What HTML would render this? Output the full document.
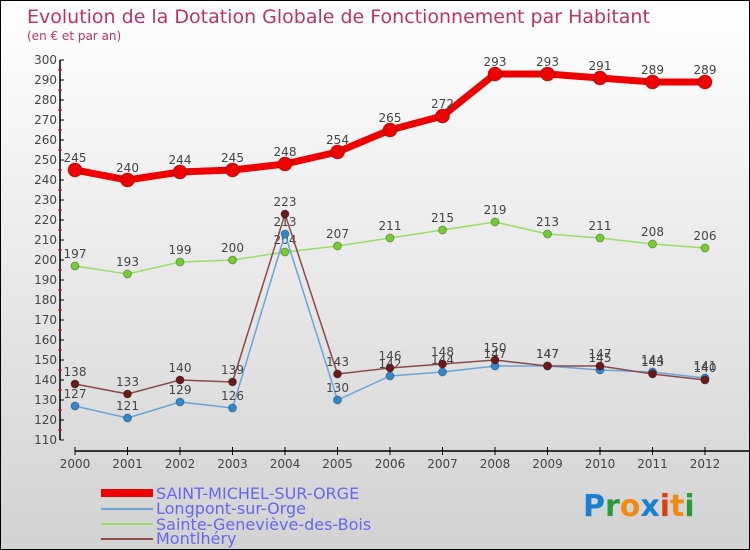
<!DOCTYPE html>
<html><head><meta charset="utf-8"><style>
body{margin:0;}
#wrap{width:748px;height:548px;border:1px solid #000;background:linear-gradient(#fff,#d2d2d2);position:relative;overflow:hidden;font-family:"DejaVu Sans","Liberation Sans",sans-serif;}
text{font-family:"DejaVu Sans","Liberation Sans",sans-serif;}
</style></head><body>
<div id="wrap">
<svg id="chart" width="748" height="548">
<text x="26" y="22" font-size="19" fill="#c0335a">Evolution de la Dotation Globale de Fonctionnement par Habitant</text>
<text x="26" y="39" font-size="12" fill="#c0335a">(en € et par an)</text>
<g id="axes"></g><g id="series"></g>
<g>
<rect x="100" y="488" width="52" height="8" fill="#e00"/>
<text x="155" y="498" font-size="16" fill="#6666ee">SAINT-MICHEL-SUR-ORGE</text>
<rect x="100" y="507" width="52" height="2" fill="#6aa5d8"/>
<text x="155" y="513" font-size="16" fill="#6666ee">Longpont-sur-Orge</text>
<rect x="100" y="522" width="52" height="2" fill="#99dd66"/>
<text x="155" y="529" font-size="16" fill="#6666ee">Sainte-Geneviève-des-Bois</text>
<rect x="100" y="537" width="52" height="2" fill="#8a4a4a"/>
<text x="155" y="543" font-size="16" fill="#6666ee">Montlhéry</text>
</g>
<g font-size="30" font-weight="bold">
<text x="582" y="515"><tspan fill="#1a7fd0">P</tspan><tspan fill="#2a9a3a">r</tspan><tspan fill="#f08a10">o</tspan><tspan fill="#1a7fd0">x</tspan><tspan fill="#e04010">i</tspan><tspan fill="#f08a10">t</tspan><tspan fill="#2a9a3a">i</tspan></text>
</g>
</svg>
</div>
<script>
const years=[2000,2001,2002,2003,2004,2005,2006,2007,2008,2009,2010,2011,2012];
const yTicks=[110,120,130,140,150,160,170,180,190,200,210,220,230,240,250,260,270,280,290,300];
const saintMichel=[245,240,244,245,248,254,265,272,293,293,291,289,289];
const longpont=[127,121,129,126,213,130,142,144,147,147,145,144,141];
const sainteGenevieve=[197,193,199,200,204,207,211,215,219,213,211,208,206];
const montlhery=[138,133,140,139,223,143,146,148,150,147,147,143,140];
const NS='http://www.w3.org/2000/svg';
const X=i=>74+(i)*52.5;
const Y=v=>59+(300-v)*2;
function mk(t,a,p){const e=document.createElementNS(NS,t);for(const k in a)e.setAttribute(k,a[k]);p.appendChild(e);return e;}
const ax=document.getElementById('axes');
let l=mk('line',{x1:59,y1:Y(300),x2:59,y2:Y(110),stroke:'#000','stroke-width':1.5},ax);


yTicks.forEach(v=>{
 mk('line',{x1:59,y1:Y(v),x2:63,y2:Y(v),stroke:'#000'},ax);
 if(v<300)mk('line',{x1:57,y1:Y(v+5),x2:61,y2:Y(v+5),stroke:'#e00'},ax);
 const t=mk('text',{x:56,y:Y(v)+4,'text-anchor':'end','font-size':12,fill:'#444'},ax);t.textContent=v;
 
 
});
l=mk('line',{x1:74,y1:450,x2:748,y2:450,stroke:'#000','stroke-width':1.5},ax);


years.forEach((y,i)=>{
 mk('line',{x1:X(i),y1:446,x2:X(i),y2:454,stroke:'#000'},ax);
 const t=mk('text',{x:X(i),y:467,'text-anchor':'middle','font-size':12,fill:'#444'},ax);t.textContent=y;
 
 
});
const sg=document.getElementById('series');
function draw(vals,color,w,r,dot,name){
 const g=mk('g',{},sg);
 
 
 mk('polyline',{points:vals.map((v,i)=>X(i)+','+Y(v)).join(' '),fill:'none',stroke:color,'stroke-width':w,'stroke-linejoin':'round'},g);
 vals.forEach((v,i)=>{
  const c=mk('circle',{cx:X(i),cy:Y(v),r:r,fill:dot,stroke:'rgba(0,0,0,0.3)'},g);
  
  
  const t=mk('text',{x:X(i),y:Y(v)-8,'text-anchor':'middle','font-size':12,fill:'#444'},g);t.textContent=v;
  
  
 });
}
draw(sainteGenevieve,'#99dd66',1.5,4,'#77cc33','series-sainte-genevieve');
draw(longpont,'#6aa5d8',1.5,4,'#3388cc','series-longpont');
draw(montlhery,'#8a4a4a',1.5,4,'#6a1a1a','series-montlhery');
draw(saintMichel,'#ee0000',7,7,'#ee0000','series-saint-michel');
</script>
</body></html>
